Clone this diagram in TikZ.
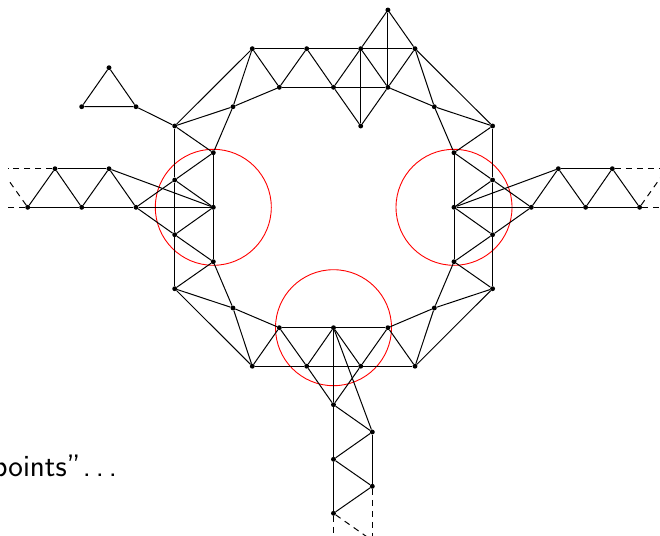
\documentclass[tikz,border=0pt]{standalone}
\tikzset{
  vtx/.style={circle,fill=black,inner sep=0pt,minimum size=4.9pt},
  lnk/.style={line width=1pt,black},
  dlnk/.style={line width=1pt,black,dash pattern=on 6pt off 5pt},
  ring/.style={red,line width=0.9pt},
}
\begin{document}
\begin{tikzpicture}[x=1pt,y=-1pt]
\useasboundingbox (0,0) rectangle (660,535);
\clip (0,0) rectangle (660,535);
% top strip
\foreach \n/\x in {1/252.3,2/306.7,3/360.7,4/415}{\node[vtx] (to\n) at (\x,48.7) {};}
\foreach \n/\x in {1/279.3,2/333.5,3/387.9}{\node[vtx] (ti\n) at (\x,87.3) {};}
% bottom strip
\foreach \n/\x in {1/252.3,2/306.7,3/360.7,4/415}{\node[vtx] (bo\n) at (\x,366.2) {};}
\foreach \n/\x in {1/279.3,2/333.5,3/387.9}{\node[vtx] (bi\n) at (\x,327.7) {};}
% left strip
\foreach \n/\y in {1/126,2/180,3/234.7,4/288.7}{\node[vtx] (lo\n) at (174.7,\y) {};}
\foreach \n/\y in {1/152.7,2/207.3,3/261.7}{\node[vtx] (li\n) at (213.3,\y) {};}
% right strip
\foreach \n/\y in {1/126,2/180,3/234.7,4/288.7}{\node[vtx] (ro\n) at (492.6,\y) {};}
\foreach \n/\y in {1/152.7,2/207.3,3/261.7}{\node[vtx] (ri\n) at (454,\y) {};}
% diagonal nodes
\node[vtx] (dTL) at (233,106.7) {};
\node[vtx] (dTR) at (434.3,106.7) {};
\node[vtx] (dBL) at (233,308) {};
\node[vtx] (dBR) at (434.3,308) {};
% top extras
\node[vtx] (A) at (387.9,10) {};
\node[vtx] (B) at (360.7,126) {};
% small triangle
\node[vtx] (T1) at (109,67.7) {};
\node[vtx] (T2) at (81.7,106.7) {};
\node[vtx] (T3) at (136,106.7) {};
% left branch
\node[vtx] (L1) at (136,207.3) {};
\node[vtx] (L2) at (109,168.7) {};
\node[vtx] (L3) at (81.7,207.3) {};
\node[vtx] (L4) at (55,168.7) {};
\node[vtx] (L5) at (27.7,207.3) {};
% right branch
\node[vtx] (R1) at (531.3,207.3) {};
\node[vtx] (R2) at (558.3,168.7) {};
\node[vtx] (R3) at (585.6,207.3) {};
\node[vtx] (R4) at (612.3,168.7) {};
\node[vtx] (R5) at (639.6,207.3) {};
% bottom branch
\node[vtx] (D1) at (333.5,404.7) {};
\node[vtx] (D2) at (372.3,432) {};
\node[vtx] (D3) at (333.5,459.3) {};
\node[vtx] (D4) at (372.3,486.3) {};
\node[vtx] (D5) at (333.5,513.3) {};
% free ends
\coordinate (lfTop) at (8,168.7);
\coordinate (lfBot) at (8,207.3);
\coordinate (lfDia) at (8.3,179.9);
\coordinate (rfTop) at (662,168.7);
\coordinate (rfBot) at (662,207.3);
\coordinate (rfDia) at (666.9,168.7);
\coordinate (dfL) at (333.5,537);
\coordinate (dfR) at (372.3,537);
\coordinate (dfDia) at (372.3,540.6);

% circles
\draw[ring] (li2.center) circle[radius=58];
\draw[ring] (ri2.center) circle[radius=58];
\draw[ring] (bi2.center) circle[radius=58];

% strips
\draw[lnk] (to1) -- (to2) -- (to3) -- (to4);
\draw[lnk] (ti1) -- (ti2) -- (ti3);
\draw[lnk] (to1) -- (ti1) -- (to2) -- (ti2) -- (to3) -- (ti3) -- (to4);
\draw[lnk] (bo1) -- (bo2) -- (bo3) -- (bo4);
\draw[lnk] (bi1) -- (bi2) -- (bi3);
\draw[lnk] (bo1) -- (bi1) -- (bo2) -- (bi2) -- (bo3) -- (bi3) -- (bo4);
\draw[lnk] (lo1) -- (lo2) -- (lo3) -- (lo4);
\draw[lnk] (li1) -- (li2) -- (li3);
\draw[lnk] (lo1) -- (li1) -- (lo2) -- (li2) -- (lo3) -- (li3) -- (lo4);
\draw[lnk] (ro1) -- (ro2) -- (ro3) -- (ro4);
\draw[lnk] (ri1) -- (ri2) -- (ri3);
\draw[lnk] (ro1) -- (ri1) -- (ro2) -- (ri2) -- (ro3) -- (ri3) -- (ro4);
% corners
\draw[lnk] (lo1) -- (to1);
\draw[lnk] (lo1) -- (dTL) -- (to1);
\draw[lnk] (ti1) -- (dTL) -- (li1);
\draw[lnk] (ro1) -- (to4);
\draw[lnk] (ro1) -- (dTR) -- (to4);
\draw[lnk] (ti3) -- (dTR) -- (ri1);
\draw[lnk] (lo4) -- (bo1);
\draw[lnk] (lo4) -- (dBL) -- (bo1);
\draw[lnk] (bi1) -- (dBL) -- (li3);
\draw[lnk] (ro4) -- (bo4);
\draw[lnk] (ro4) -- (dBR) -- (bo4);
\draw[lnk] (bi3) -- (dBR) -- (ri3);
% top extras
\draw[lnk] (to3) -- (A) -- (to4);
\draw[lnk] (A) -- (ti3);
\draw[lnk] (ti2) -- (B) -- (ti3);
\draw[lnk] (B) -- (to3);
% small triangle
\draw[lnk] (T1) -- (T2) -- (T3) -- (T1);
\draw[lnk] (T3) -- (lo1);
% left branch
\draw[lnk] (li2) -- (L1);
\draw[lnk] (lo2) -- (L1) -- (lo3);
\draw[lnk] (L2) -- (li2);
\draw[lnk] (L1) -- (L2) -- (L3) -- (L4) -- (L5);
\draw[lnk] (L1) -- (L3) -- (L5);
\draw[lnk] (L2) -- (L4);
\draw[dlnk] (L4) -- (lfTop);
\draw[dlnk] (L5) -- (lfBot);
\draw[dlnk] (L5) -- (lfDia);
% right branch
\draw[lnk] (ri2) -- (R1);
\draw[lnk] (ro2) -- (R1) -- (ro3);
\draw[lnk] (R2) -- (ri2);
\draw[lnk] (R1) -- (R2) -- (R3) -- (R4) -- (R5);
\draw[lnk] (R1) -- (R3) -- (R5);
\draw[lnk] (R2) -- (R4);
\draw[dlnk] (R4) -- (rfTop);
\draw[dlnk] (R5) -- (rfBot);
\draw[dlnk] (R5) -- (rfDia);
% bottom branch
\draw[lnk] (bi2) -- (D1);
\draw[lnk] (bo2) -- (D1) -- (bo3);
\draw[lnk] (bi2) -- (D2);
\draw[lnk] (D1) -- (D2) -- (D3) -- (D4) -- (D5);
\draw[lnk] (D1) -- (D3) -- (D5);
\draw[lnk] (D2) -- (D4);
\draw[dlnk] (D5) -- (dfL);
\draw[dlnk] (D4) -- (dfR);
\draw[dlnk] (D5) -- (dfDia);

% text
\node[anchor=base west,inner sep=0pt,font=\sffamily\fontsize{31}{37}\selectfont] (txt) at (-7.5,476.7)
  {points''\kern2.5pt.\kern\fontdimen3\font.\kern\fontdimen3\font.};
\end{tikzpicture}
\end{document}
